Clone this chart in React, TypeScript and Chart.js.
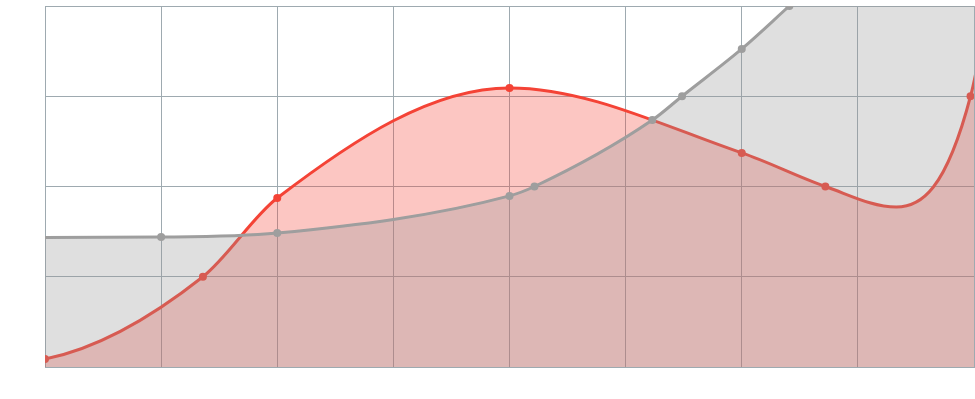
import React, { useEffect, useRef } from "react";
import { Chart, registerables } from "chart.js";

Chart.register(...registerables);

// X range and Y range of the visible window
const xRange = [0, 8];
const yRange = [0, 100];

// Red series (x, y); guide points carry no marker
const redX = [-1, 0, 1.36, 2, 4, 6, 6.72, 7.33, 7.97, 8.3];
const redY = [0, 2.2, 25, 46.8, 77.3, 59.3, 50, 44.3, 75, 140];
const redGuide = [true, false, false, false, false, false, false, true, false, true];

// Grey series
const greyX = [-1, 1, 2, 4, 4.215, 5.23, 5.486, 6, 6.41, 7, 8, 9];
const greyY = [35.8, 36, 37.1, 47.4, 50, 68.4, 75, 88.1, 100, 117, 140, 160];
const greyGuide = [true, false, false, false, false, false, false, false, false, false, false, false];

const RED = "#f44336";
const GREY = "#9e9e9e";
const GRID = "#9eaab0";

function build(xs: number[], ys: number[], guide: boolean[]) {
  return xs.map((x, i) => ({ x, y: ys[i], guide: guide[i] }));
}

export default function App() {
  const ref = useRef<HTMLCanvasElement | null>(null);

  useEffect(() => {
    if (!ref.current) return;
    const chart = new Chart(ref.current, {
      type: "line",
      data: {
        datasets: [
          {
            label: "grey",
            data: build(greyX, greyY, greyGuide) as any,
            borderColor: GREY,
            backgroundColor: "rgba(150,150,150,0.3)",
            pointBackgroundColor: GREY,
            pointBorderColor: GREY,
            pointBorderWidth: 0,
            pointRadius: (ctx: any) => (ctx.raw && ctx.raw.guide ? 0 : 4),
            borderWidth: 3,
            fill: "start",
            cubicInterpolationMode: "monotone",
            clip: 0,
          },
          {
            label: "red",
            data: build(redX, redY, redGuide) as any,
            borderColor: RED,
            backgroundColor: "rgba(244,67,54,0.3)",
            pointBackgroundColor: RED,
            pointBorderColor: RED,
            pointBorderWidth: 0,
            pointRadius: (ctx: any) => (ctx.raw && ctx.raw.guide ? 0 : 4),
            borderWidth: 3,
            fill: "start",
            cubicInterpolationMode: "monotone",
            clip: 0,
          },
        ],
      },
      options: {
        animation: false,
        responsive: false,
        maintainAspectRatio: false,
        devicePixelRatio: 1,
        layout: { autoPadding: false, padding: { left: 45, top: 6, right: 1, bottom: 32 } },
        plugins: { legend: { display: false }, tooltip: { enabled: false } },
        events: [],
        scales: {
          x: {
            type: "linear",
            min: xRange[0],
            max: xRange[1],
            ticks: { display: false, stepSize: 1 },
            grid: { color: GRID, drawTicks: false, lineWidth: 1 },
            border: { color: GRID, width: 1 },
          },
          y: {
            type: "linear",
            min: yRange[0],
            max: yRange[1],
            ticks: { display: false, stepSize: 25 },
            grid: { color: GRID, drawTicks: false, lineWidth: 1 },
            border: { color: GRID, width: 1 },
          },
        },
      },
    });
    return () => chart.destroy();
  }, []);

  return (
    <div style={{ position: "fixed", left: 0, top: 0, width: 975, height: 399, background: "#fff" }}>
      <canvas ref={ref} width={975} height={399} style={{ width: 975, height: 399, display: "block" }} />
    </div>
  );
}
